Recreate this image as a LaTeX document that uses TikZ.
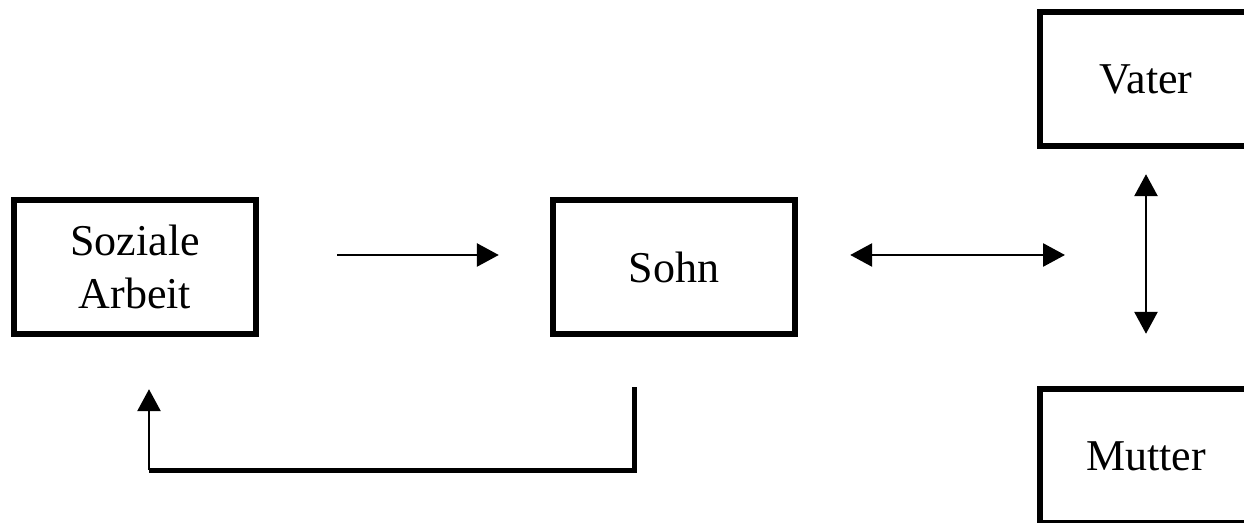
\documentclass[tikz,border=0pt]{standalone}
\usepackage{fontspec}
\setmainfont{Liberation Serif}
\usetikzlibrary{arrows.meta}

\begin{document}
\begin{tikzpicture}[x=0.5pt,y=-0.5pt,
  kasten/.style={draw,line width=3.2pt,minimum width=121pt,minimum height=67pt,align=center,font=\fontsize{22}{26.5}\selectfont},
  pfeil/.style={line width=1.4pt,-{Triangle[length=11pt,width=11.5pt]}},
  doppelpfeil/.style={line width=1.4pt,{Triangle[length=11pt,width=11.5pt]}-{Triangle[length=11pt,width=11.5pt]}}]
 \useasboundingbox (0,0) rectangle (1244,523);
 \clip (0,0) rectangle (1244,523);
 \node[kasten,name=SA    ] at (135,267)                        {Soziale\\Arbeit};
 \node[kasten,name=Sohn  ] at (674,267)                        {Sohn};
 \node[kasten,name=Vater ,minimum width=106pt] at (1146,79)    {Vater};
 \node[kasten,name=Mutter,minimum width=106pt] at (1146,456)   {Mutter};
 \draw[pfeil,shorten <=39pt,shorten >=25.5pt]       ([yshift=6pt]SA.east)   -- ([yshift=6pt]Sohn.west);
 \draw[doppelpfeil,shorten <=26pt,shorten >=40.5pt] ([yshift=6pt]Sohn.east) -- ([yshift=6pt]Sohn.east -| Vater.south);
 \draw[doppelpfeil,shorten <=12.5pt,shorten >=26pt] (Vater.south) -- (Mutter.north);
 \draw[line width=2.5pt] ([xshift=-20pt,yshift=-25pt]Sohn.south) |- ([xshift=7pt,yshift=-66.5pt]SA.south) coordinate (Knick);
 \draw[pfeil] (Knick) -- ([xshift=7pt,yshift=-26pt]SA.south);
\end{tikzpicture}
\end{document}
